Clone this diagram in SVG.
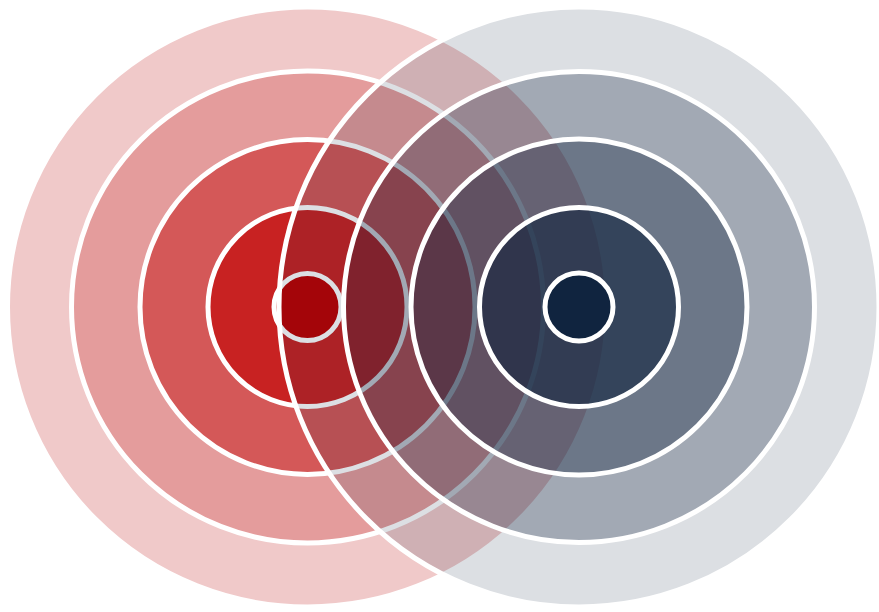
<svg xmlns="http://www.w3.org/2000/svg" width="879" height="612" viewBox="0 0 879 612">
  <style>
    circle { stroke: #ffffff; stroke-width: 5; }
    .l1 { fill: #f0c9c9; }
    .l2 { fill: #e49c9c; }
    .l3 { fill: #d45858; }
    .l4 { fill: #c82222; }
    .l5 { fill: #be0000; }
    .r { fill: #10243f; }
    .r1 { fill-opacity: 0.146; }
    .r2 { fill-opacity: 0.285; }
    .r3 { fill-opacity: 0.37; }
    .r4 { fill-opacity: 0.608; }
    .r5 { fill-opacity: 1; }
  </style>
  <rect width="879" height="612" fill="#ffffff"/>
  <g id="left-target">
    <g id="left-ring-1"><circle class="l1" cx="307.5" cy="307" r="300"/></g>
    <g id="left-ring-2"><circle class="l2" cx="307.5" cy="307" r="236"/></g>
    <g id="left-ring-3"><circle class="l3" cx="307.5" cy="307" r="167.5"/></g>
    <g id="left-ring-4"><circle class="l4" cx="307.5" cy="307" r="99.5"/></g>
    <g id="left-center"><circle class="l5" cx="307.5" cy="307" r="33.5"/></g>
  </g>
  <g id="right-target">
    <g id="right-ring-1"><circle class="r r1" cx="579" cy="307" r="300"/></g>
    <g id="right-ring-2"><circle class="r r2" cx="579" cy="307" r="235.5"/></g>
    <g id="right-ring-3"><circle class="r r3" cx="579" cy="307" r="168"/></g>
    <g id="right-ring-4"><circle class="r r4" cx="579" cy="307" r="99.5"/></g>
    <g id="right-center"><circle class="r r5" cx="579" cy="307" r="34"/></g>
  </g>
  <g id="connectors"/>
</svg>
